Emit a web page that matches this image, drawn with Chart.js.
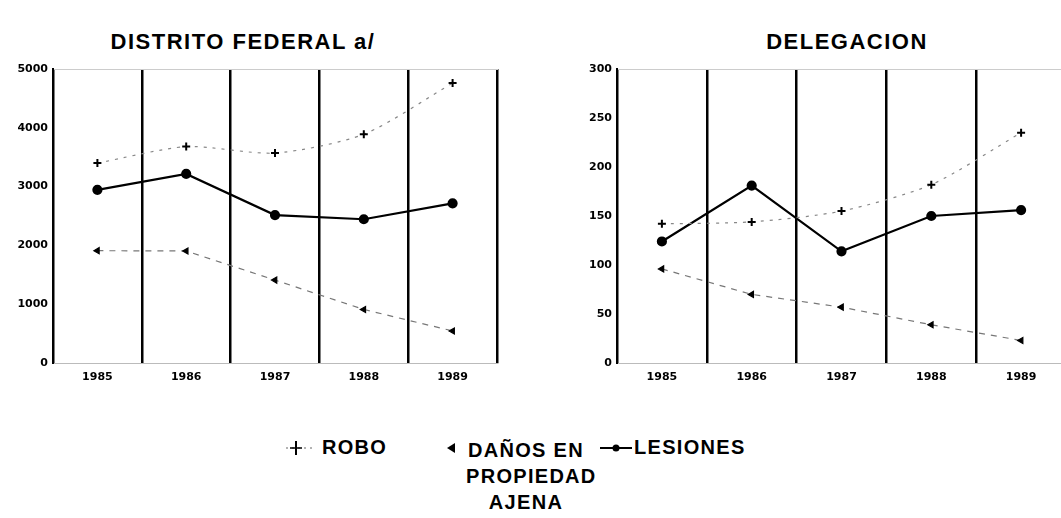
<!DOCTYPE html>
<html>
<head>
<meta charset="utf-8">
<script src="https://cdn.jsdelivr.net/npm/chart.js@4/dist/chart.umd.min.js"></script>
<style>
  html, body { margin:0; padding:0; background:#fff; }
  body { width:1061px; height:518px; overflow:hidden; position:relative; font-family:"Liberation Sans", Arial, sans-serif; }
  .title { position:absolute; top:29px; font-weight:bold; font-size:22px; letter-spacing:1.5px; color:#000; white-space:nowrap; transform:translateX(-50%); }
  canvas { position:absolute; top:0; }
  .leg { position:absolute; font-weight:bold; font-size:20px; letter-spacing:1.3px; color:#000; line-height:26px; white-space:nowrap; }
</style>
</head>
<body>
<div class="title" style="left:243px;">DISTRITO FEDERAL a/</div>
<div class="title" style="left:847px;">DELEGACION</div>
<canvas id="c1" width="530" height="400" style="left:0px;"></canvas>
<canvas id="c2" width="580" height="400" style="left:530px;"></canvas>

<div class="leg" style="left:322px; top:434px;">ROBO</div>
<svg style="position:absolute; left:284px; top:438px;" width="30" height="20">
  <line x1="2" y1="10" x2="28" y2="10" stroke="#666" stroke-width="1" stroke-dasharray="2,4"/>
  <line x1="12" y1="3" x2="12" y2="17" stroke="#000" stroke-width="2"/>
  <line x1="6" y1="10" x2="18" y2="10" stroke="#000" stroke-width="1.5"/>
</svg>
<div class="leg" style="left:466px; top:437px; text-align:center; width:120px;">DAÑOS EN<br>PROPIEDAD<br>AJENA</div>
<svg style="position:absolute; left:444px; top:440px;" width="16" height="16">
  <polygon points="3,8 11,3 11,13" fill="#000"/>
</svg>
<div class="leg" style="left:634px; top:434px;">LESIONES</div>
<svg style="position:absolute; left:599px; top:438px;" width="34" height="20">
  <line x1="1" y1="10" x2="33" y2="10" stroke="#000" stroke-width="2"/>
  <circle cx="17" cy="10" r="3.5" fill="#000"/>
</svg>

<script>
// ---- data ----
const years = ["1985", "1986", "1987", "1988", "1989"];

const dfRobo     = [3400, 3680, 3570, 3890, 4760];
const dfDanos    = [1910, 1905, 1410, 910, 545];
const dfLesiones = [2945, 3215, 2515, 2445, 2715];
const dfTicks    = [0, 1000, 2000, 3000, 4000, 5000];

const delRobo     = [142, 144, 155, 182, 235];
const delDanos    = [96, 70, 57, 39, 23];
const delLesiones = [124, 181, 114, 150, 156];
const delTicks    = [0, 50, 100, 150, 200, 250, 300];

const tickFont = { family: "DejaVu Sans", weight: "bold", size: 11 };

function makeDatasets(robo, danos, lesiones) {
  return [
    {
      label: "ROBO", data: robo,
      borderColor: "#888", borderWidth: 1.2, borderDash: [3, 6],
      pointStyle: "cross", pointRadius: 4, pointBorderWidth: 2,
      pointBorderColor: "#000", pointBackgroundColor: "#000",
      tension: 0.25, fill: false
    },
    {
      label: "DAÑOS EN PROPIEDAD AJENA", data: danos,
      borderColor: "#777", borderWidth: 1.2, borderDash: [6, 6],
      pointStyle: "triangle", pointRotation: -90, pointRadius: 3.5,
      pointBorderColor: "#000", pointBackgroundColor: "#000",
      tension: 0, fill: false
    },
    {
      label: "LESIONES", data: lesiones,
      borderColor: "#000", borderWidth: 2.2,
      pointStyle: "circle", pointRadius: 4,
      pointBorderColor: "#000", pointBackgroundColor: "#000",
      tension: 0, fill: false
    }
  ];
}

function makeChart(id, robo, danos, lesiones, ticks, max, yWidth, padRight) {
  return new Chart(document.getElementById(id), {
    type: "line",
    data: { labels: years, datasets: makeDatasets(robo, danos, lesiones) },
    options: {
      responsive: false, animation: false,
      layout: { padding: { top: 69, right: padRight, left: 0, bottom: 0 } },
      plugins: { legend: { display: false }, tooltip: { enabled: false }, title: { display: false } },
      scales: {
        x: {
          type: "category", offset: true, position: "bottom",
          grid: { display: true, offset: true, color: "#000", lineWidth: 2.5, drawTicks: false },
          border: { display: true, color: "#bbb", width: 1 },
          ticks: { color: "#000", font: tickFont, padding: 8, maxRotation: 0 },
          afterFit: s => { s.height = 37; }
        },
        x2: {
          type: "category", labels: years, offset: true, position: "top",
          grid: { display: true, color: "rgba(0,0,0,0)", drawTicks: false },
          border: { display: true, color: "#ccc", width: 1 },
          ticks: { display: false },
          afterFit: s => { s.height = 0; }
        },
        y: {
          min: 0, max: max,
          grid: { drawOnChartArea: false, drawTicks: false },
          border: { display: true, color: "#000", width: 2 },
          afterBuildTicks: s => { s.ticks = ticks.map(v => ({ value: v })); },
          ticks: { color: "#000", font: tickFont, padding: 5, callback: v => String(v) },
          afterFit: s => { s.width = yWidth; }
        }
      }
    }
  });
}

makeChart("c1", dfRobo, dfDanos, dfLesiones, dfTicks, 5000, 53, 33);
makeChart("c2", delRobo, delDanos, delLesiones, delTicks, 300, 87, 44);
</script>
</body>
</html>
